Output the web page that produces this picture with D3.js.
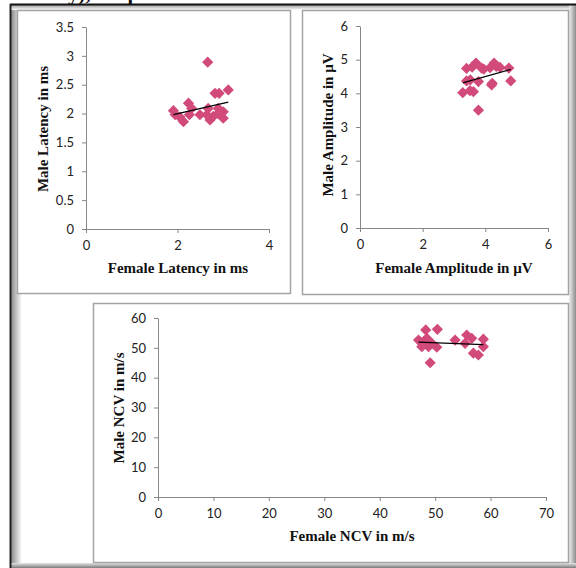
<!DOCTYPE html>
<html lang="en">
<head>
<meta charset="UTF-8" />
<title>Male vs Female scatter</title>
<style>
  html, body { margin: 0; padding: 0; background: #fff; }
  .chart svg { display: block; }
  .tick text { font-family: Lato, "Open Sans", sans-serif; font-size: 13px; fill: #222; }
  .title { font-family: "Liberation Serif", "Times New Roman", serif; font-weight: bold; font-size: 15px; fill: #111; }
</style>
</head>
<body>
<div class="chart"></div>
<script src="https://cdnjs.cloudflare.com/ajax/libs/d3/7.8.5/d3.min.js"></script>
<script>
// values (female on x, male on y)
const latencyFemale = [1.91, 1.95, 2.05, 2.13, 2.24, 2.26, 2.31, 2.49, 2.64, 2.66, 2.67, 2.71, 2.78, 2.82, 2.89, 2.89, 2.91, 3.00, 3.00, 3.11]
const latencyMale   = [2.05, 1.98, 1.94, 1.86, 2.18, 1.98, 2.09, 1.98, 1.98, 2.89, 2.09, 1.89, 1.95, 2.35, 2.00, 2.09, 2.35, 2.03, 1.92, 2.41]
const latencyXTicks = [0, 2, 4]
const latencyYTicks = [0, 0.5, 1, 1.5, 2, 2.5, 3, 3.5]

const ampFemale = [3.78, 3.28, 3.51, 3.62, 4.20, 4.22, 4.81, 3.40, 3.78, 4.75, 3.40, 3.58, 3.70, 3.88, 4.15, 4.28, 4.35, 4.47, 3.52, 3.95]
const ampMale   = [3.50, 4.02, 4.08, 4.05, 4.25, 4.30, 4.37, 4.37, 4.35, 4.75, 4.74, 4.78, 4.90, 4.75, 4.76, 4.90, 4.80, 4.77, 4.40, 4.72]
const ampXTicks = [0, 2, 4, 6]
const ampYTicks = [0, 1, 2, 3, 4, 5, 6]

const ncvFemale = [48.3, 50.4, 49.1, 47.0, 47.6, 48.5, 48.8, 50.3, 47.9, 49.4, 53.6, 55.7, 55.4, 56.6, 58.7, 58.7, 56.9, 57.8]
const ncvMale   = [56.0, 56.2, 45.0, 52.6, 50.4, 53.2, 50.4, 50.2, 51.5, 51.5, 52.6, 54.3, 51.5, 53.2, 52.9, 50.4, 48.2, 47.6]
const ncvXTicks = [0, 10, 20, 30, 40, 50, 60, 70]
const ncvYTicks = [0, 10, 20, 30, 40, 50, 60]

const W = 576, H = 568
const markColor = '#d24a7b'
const axisColor = '#868686'

const svg = d3.select('.chart').append('svg')
  .attr('width', W).attr('height', H)

// frame with shadows
const defs = svg.append('defs')
function grad(id, x1, y1, x2, y2, c1, c2){
  const g = defs.append('linearGradient').attr('id', id)
    .attr('x1', x1).attr('y1', y1).attr('x2', x2).attr('y2', y2)
  g.append('stop').attr('offset', 0).attr('stop-color', c1)
  g.append('stop').attr('offset', 1).attr('stop-color', c2)
}
grad('shL', 0, 0, 1, 0, '#8a8a8a', '#ffffff')
grad('shR', 0, 0, 1, 0, '#f0f0f0', '#8c8c8c')
grad('shB', 0, 0, 0, 1, '#e6e6e6', '#7a7a7a')
grad('shT', 0, 0, 0, 1, '#9a9a9a', '#ffffff')

svg.append('rect').attr('x', 10).attr('y', 4).attr('width', 564).attr('height', 564).attr('fill', '#fff')
svg.append('rect').attr('x', 11).attr('y', 5).attr('width', 11).attr('height', 562).attr('fill', 'url(#shL)')
svg.append('rect').attr('x', 11).attr('y', 5).attr('width', 562).attr('height', 5).attr('fill', 'url(#shT)')
svg.append('rect').attr('x', 569).attr('y', 5).attr('width', 7).attr('height', 563).attr('fill', 'url(#shR)')
svg.append('rect').attr('x', 11).attr('y', 563).attr('width', 565).attr('height', 5).attr('fill', 'url(#shB)')
svg.append('line').attr('x1', 10).attr('x2', 576).attr('y1', 4.5).attr('y2', 4.5).attr('stroke', '#111').attr('stroke-width', 2)
svg.append('line').attr('x1', 10.5).attr('x2', 10.5).attr('y1', 4).attr('y2', 568).attr('stroke', '#222').attr('stroke-width', 2)

// heading of the page, cut off at the top: only descenders show
const head = svg.append('text').attr('class', 'title')
  .style('font-size', '21px').attr('y', -0.5)
  .text('Latency), Amplitude and NCV')
const pre = head.node().getSubStringLength(0, 6)
head.attr('x', 68 - pre)

function drawPanel(o){
  const g = svg.append('g')
  g.append('rect')
    .attr('x', o.frame[0] + 0.5).attr('y', o.frame[1] + 0.5)
    .attr('width', o.frame[2]).attr('height', o.frame[3])
    .attr('fill', '#fff').attr('stroke', '#a4a4a4').attr('stroke-width', 1.5)

  const x = d3.scaleLinear().domain(o.xDomain).range([o.left, o.right])
  const y = d3.scaleLinear().domain(o.yDomain).range([o.bottom, o.top])

  const xAxis = d3.axisBottom(x).tickValues(o.xTicks).tickSize(4).tickSizeOuter(0).tickPadding(8).tickFormat(d => String(d))
  const yAxis = d3.axisLeft(y).tickValues(o.yTicks).tickSize(4).tickSizeOuter(0).tickPadding(8).tickFormat(d => String(d))

  const gx = g.append('g').attr('transform', `translate(0,${o.bottom})`).call(xAxis)
  const gy = g.append('g').attr('transform', `translate(${o.left},0)`).call(yAxis)
  ;[gx, gy].forEach(a => {
    a.select('.domain').attr('stroke', axisColor)
    a.selectAll('.tick line').attr('stroke', axisColor)
  })

  // markers
  const pts = o.xs.map((v, i) => [v, o.ys[i]])
  const r = 5.6
  g.append('g').selectAll('path')
    .data(pts)
    .join('path')
    .attr('d', `M0,${-r}L${r},0L0,${r}L${-r},0Z`)
    .attr('transform', d => `translate(${x(d[0])},${y(d[1])})`)
    .attr('fill', markColor)

  // linear trend line (least squares)
  const mx = d3.mean(o.xs), my = d3.mean(o.ys)
  const sxy = d3.sum(pts, d => (d[0] - mx) * (d[1] - my))
  const sxx = d3.sum(o.xs, v => (v - mx) * (v - mx))
  const slope = sxy / sxx, icpt = my - slope * mx
  const [x0, x1] = d3.extent(o.xs)
  g.append('line')
    .attr('x1', x(x0)).attr('y1', y(icpt + slope * x0))
    .attr('x2', x(x1)).attr('y2', y(icpt + slope * x1))
    .attr('stroke', '#000').attr('stroke-width', 1.3)

  // axis titles
  g.append('text').attr('class', 'title')
    .attr('x', o.xTitle[0]).attr('y', o.xTitle[1])
    .attr('text-anchor', 'middle')
    .text(o.xLabel)
  g.append('text').attr('class', 'title')
    .attr('transform', `translate(${o.yTitle[0]},${o.yTitle[1]}) rotate(-90)`)
    .attr('text-anchor', 'middle')
    .text(o.yLabel)
}

drawPanel({
  frame: [17, 10, 273, 283],
  left: 86, right: 269, top: 27, bottom: 229,
  xDomain: [0, 4], yDomain: [0, 3.5],
  xTicks: latencyXTicks, yTicks: latencyYTicks,
  xs: latencyFemale, ys: latencyMale,
  xLabel: 'Female Latency in ms', yLabel: 'Male Latency in ms',
  xTitle: [178, 273], yTitle: [48, 129]
})

drawPanel({
  frame: [302, 10, 266, 284],
  left: 360, right: 548, top: 26, bottom: 228,
  xDomain: [0, 6], yDomain: [0, 6],
  xTicks: ampXTicks, yTicks: ampYTicks,
  xs: ampFemale, ys: ampMale,
  xLabel: 'Female Amplitude in \u00b5V', yLabel: 'Male Amplitude in \u00b5V',
  xTitle: [454, 273], yTitle: [333, 125]
})

drawPanel({
  frame: [93, 303, 475, 259],
  left: 158, right: 546, top: 318, bottom: 497,
  xDomain: [0, 70], yDomain: [0, 60],
  xTicks: ncvXTicks, yTicks: ncvYTicks,
  xs: ncvFemale, ys: ncvMale,
  xLabel: 'Female NCV in m/s', yLabel: 'Male NCV in m/s',
  xTitle: [352, 541], yTitle: [124, 408]
})
</script>
</body>
</html>
